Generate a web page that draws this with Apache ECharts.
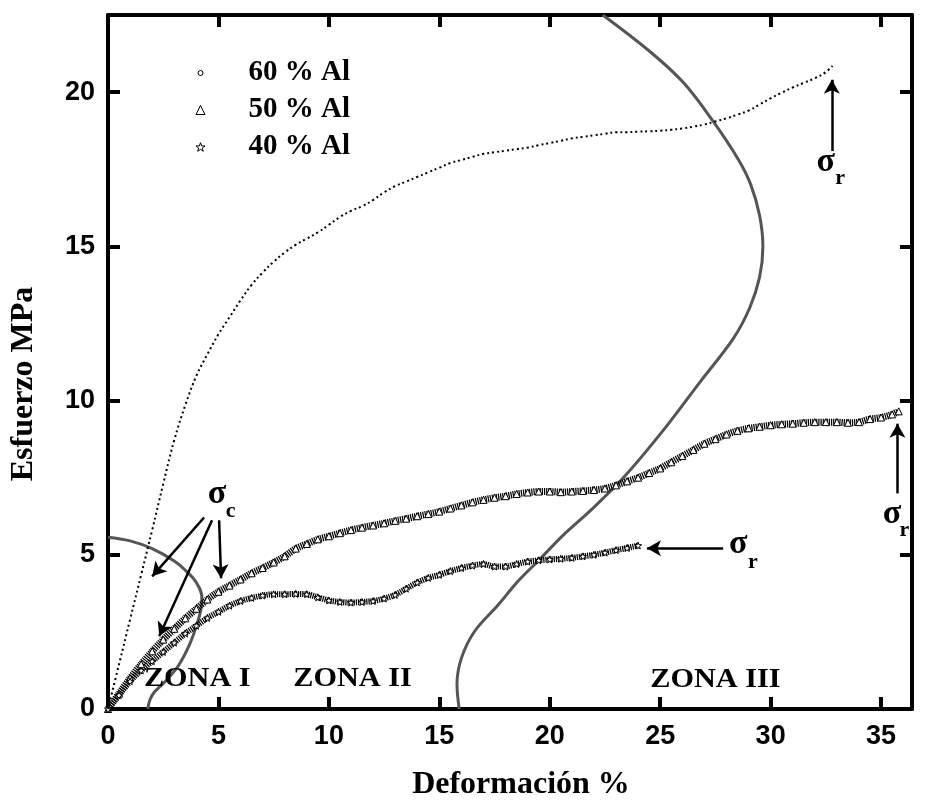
<!DOCTYPE html>
<html>
<head>
<meta charset="utf-8">
<script src="https://cdn.jsdelivr.net/npm/echarts@6/dist/echarts.min.js"></script>
<style>
html,body{margin:0;padding:0;background:#fff;}
#main{width:929px;height:806px;}
</style>
</head>
<body>
<div id="main"></div>
<script>
// ---------- data ----------
const strain60 = [0,0.5,1,1.5,2,2.5,3,3.5,4,4.5,5,5.5,6,6.5,7,7.5,8,8.5,9,9.5,10,10.5,11,11.5,12,12.5,13,13.5,14,14.5,15,15.5,16,16.5,17,17.5,18,18.5,19,19.5,20,20.5,21,21.5,22,22.5,23,23.5,24,24.5,25,25.5,26,26.5,27,27.5,28,28.5,29,29.5,30,30.5,31,31.5,32,32.5,32.8];
const stress60 = [0,1.45,2.9,4.35,5.8,7.3,8.72,9.85,10.8,11.5,12.15,12.7,13.25,13.75,14.15,14.5,14.8,15.05,15.25,15.45,15.7,15.95,16.15,16.3,16.5,16.75,16.95,17.1,17.25,17.4,17.55,17.7,17.8,17.9,18.0,18.05,18.1,18.15,18.2,18.28,18.35,18.42,18.5,18.55,18.6,18.65,18.7,18.7,18.72,18.73,18.75,18.78,18.82,18.88,18.95,19.05,19.15,19.27,19.4,19.6,19.8,19.98,20.15,20.3,20.45,20.65,20.85];

const strain50 = [0,0.5,1,1.5,2,2.5,3,3.5,4,4.5,5,5.5,6,6.5,7,7.5,8,8.5,9,9.5,10,10.5,11,11.5,12,12.5,13,13.5,14,14.5,15,15.5,16,16.5,17,17.5,18,18.5,19,19.5,20,20.5,21,21.5,22,22.5,23,23.5,24,24.5,25,25.5,26,26.5,27,27.5,28,28.5,29,29.5,30,30.5,31,31.5,32,32.5,33,33.5,34,34.5,35,35.5,35.8];
const stress50 = [0,0.5,1.0,1.45,1.87,2.25,2.6,2.94,3.25,3.55,3.8,4.0,4.2,4.4,4.57,4.75,4.95,5.2,5.35,5.5,5.6,5.7,5.8,5.88,5.95,6.02,6.1,6.17,6.25,6.32,6.4,6.5,6.6,6.7,6.78,6.85,6.9,6.97,7.02,7.05,7.05,7.03,7.05,7.07,7.1,7.15,7.25,7.38,7.5,7.65,7.8,8.0,8.2,8.4,8.6,8.75,8.9,9.02,9.1,9.15,9.2,9.23,9.25,9.28,9.3,9.3,9.3,9.28,9.3,9.4,9.45,9.55,9.65];

const strain40 = [0,0.5,1,1.5,2,2.5,3,3.5,4,4.5,5,5.5,6,6.5,7,7.5,8,8.5,9,9.5,10,10.5,11,11.5,12,12.5,13,13.5,14,14.5,15,15.5,16,16.5,17,17.5,18,18.5,19,19.5,20,20.5,21,21.5,22,22.5,23,23.5,24];
const stress40 = [0,0.45,0.9,1.25,1.55,1.85,2.15,2.45,2.7,2.95,3.15,3.35,3.5,3.6,3.68,3.72,3.72,3.73,3.72,3.62,3.52,3.47,3.45,3.47,3.5,3.58,3.7,3.9,4.1,4.25,4.35,4.47,4.57,4.65,4.7,4.62,4.62,4.7,4.78,4.82,4.85,4.87,4.9,4.95,5.0,5.07,5.15,5.22,5.3];

// zone boundary curves
const zone1X = [0,1,2,3,3.5,4.0,4.25,4.2,4.05,3.7,3.2,2.6,2.1,1.9,1.8];
const zone1Y = [5.57,5.45,5.2,4.8,4.5,4.1,3.6,3.2,2.8,2.1,1.42,0.9,0.55,0.3,0];
const zone2X = [15.9,15.8,16.0,16.6,17.66,18.56,19.46,20.6,21.85,23.3,25.1,26.8,28.3,29.05,29.5,29.65,29.5,29.1,28.55,27.4,26.06,24.56,22.4];
const zone2Y = [0,0.8,1.65,2.52,3.37,4.14,4.79,5.63,6.44,7.47,9.0,10.6,12.0,13.0,14.0,15.0,16.0,17.0,17.8,19.05,20.3,21.3,22.5];

const seriesNames = ['60 % Al','50 % Al','40 % Al'];
const xTicks = {min:0, max:36.4, interval:5};
const yTicks = {min:0, max:22.5, interval:5};

// ---------- helpers ----------
const pairs = (xs, ys) => xs.map((x,i)=>[x, ys[i]]);
const starPath = 'path://M0,-10L2.35,-3.24L9.51,-3.09L3.8,1.24L5.88,8.09L0,4L-5.88,8.09L-3.8,1.24L-9.51,-3.09L-2.35,-3.24Z';
const serif = '"Liberation Serif","Times New Roman",serif';
const sans = '"Liberation Sans",Arial,sans-serif';

const axisLineStyle = {show:true, onZero:false, lineStyle:{color:'#000', width:4}};
const tickStyle = {show:true, inside:true, length:12, lineStyle:{color:'#000', width:4}};
const labelStyle = {color:'#000', fontFamily:sans, fontWeight:'bold', fontSize:27, showMaxLabel:false};
const hollow = {color:'#fff', borderColor:'#000', borderWidth:1};
const legendText = pl => ({color:'#000', fontFamily:serif, fontWeight:'bold', fontSize:29, lineHeight:30, padding:[0,0,0,pl]});

const chart = echarts.init(document.getElementById('main'), null, {renderer:'canvas'});

const option = {
  animation:false,
  backgroundColor:'#fff',
  grid:{left:106, right:17, top:15, bottom:95, containLabel:false},
  legend:[
    {orient:'vertical', left:197.5, top:58, padding:0, itemWidth:5, itemHeight:5, selectedMode:false,
     textStyle:legendText(40.5), data:[{name:seriesNames[0], icon:'circle', itemStyle:hollow}]},
    {orient:'vertical', left:195.5, top:95, padding:0, itemWidth:9, itemHeight:9, selectedMode:false,
     textStyle:legendText(38.5), data:[{name:seriesNames[1], icon:'triangle', itemStyle:hollow}]},
    {orient:'vertical', left:195.5, top:132, padding:0, itemWidth:9, itemHeight:9, selectedMode:false,
     textStyle:legendText(38.5), data:[{name:seriesNames[2], icon:starPath, itemStyle:hollow}]}
  ],
  xAxis:[
    {type:'value', position:'bottom', min:xTicks.min, max:xTicks.max, interval:xTicks.interval,
     axisLine:axisLineStyle, axisTick:tickStyle, splitLine:{show:false},
     axisLabel:Object.assign({margin:14}, labelStyle),
     name:'Deformación %', nameLocation:'middle', nameGap:60,
     nameTextStyle:{color:'#000', fontFamily:serif, fontWeight:'bold', fontSize:32, padding:[0,0,0,22]}},
    {type:'value', position:'top', min:xTicks.min, max:xTicks.max, interval:xTicks.interval,
     axisLine:axisLineStyle, axisTick:tickStyle, splitLine:{show:false}, axisLabel:{show:false}}
  ],
  yAxis:[
    {type:'value', position:'left', min:yTicks.min, max:yTicks.max, interval:yTicks.interval,
     axisLine:axisLineStyle, axisTick:tickStyle, splitLine:{show:false},
     axisLabel:Object.assign({margin:13}, labelStyle),
     name:'Esfuerzo MPa', nameLocation:'middle', nameGap:68,
     nameTextStyle:{color:'#000', fontFamily:serif, fontWeight:'bold', fontSize:32, padding:[0,44,0,0]}},
    {type:'value', position:'right', min:yTicks.min, max:yTicks.max, interval:yTicks.interval,
     axisLine:axisLineStyle, axisTick:tickStyle, splitLine:{show:false}, axisLabel:{show:false}}
  ],
  series:[
    {name:'zona1', type:'line', data:pairs(zone1X, zone1Y), smooth:0.4, showSymbol:false, symbol:'none',
     lineStyle:{color:'#555', width:3}, z:1, silent:true},
    {name:'zona2', type:'line', data:pairs(zone2X, zone2Y), smooth:0.35, showSymbol:false, symbol:'none',
     lineStyle:{color:'#555', width:3}, z:1, silent:true},
    {name:seriesNames[0], type:'line', data:pairs(strain60, stress60), smooth:0.4, showSymbol:false, symbol:'circle',
     lineStyle:{color:'#000', width:2, type:[2,3]}, itemStyle:hollow, z:3,
     markLine:{silent:true, symbol:['none','arrow'], symbolSize:[12,14], label:{show:false},
       lineStyle:{color:'#000', width:2.5, type:'solid'},
       data:[
         [{coord:[4.35,6.21]},{coord:[2.0,4.3]}],
         [{coord:[4.71,6.12]},{coord:[2.32,2.36]}],
         [{coord:[5.03,6.12]},{coord:[5.12,4.24]}],
         [{coord:[32.77,18.09]},{coord:[32.77,20.4]}],
         [{coord:[35.74,6.99]},{coord:[35.74,9.25]}],
         [{coord:[27.85,5.21]},{coord:[24.4,5.21]}]
       ]}},
    {name:seriesNames[1], type:'line', data:pairs(strain50, stress50), smooth:0.3,
     showSymbol:true, showAllSymbol:true, symbol:'triangle', symbolSize:7, itemStyle:hollow,
     lineStyle:{color:'#000', width:7, type:[1.2,0.9]}, z:2},
    {name:seriesNames[2], type:'line', data:pairs(strain40, stress40), smooth:0.3,
     showSymbol:true, showAllSymbol:true, symbol:starPath, symbolSize:7, itemStyle:hollow,
     lineStyle:{color:'#000', width:6, type:[1.2,0.9]}, z:2}
  ]
};
chart.setOption(option);

// text annotations placed in data coordinates
const toPx = (x,y) => chart.convertToPixel({xAxisIndex:0, yAxisIndex:0}, [x,y]);
const annText = (x, y, text, size, dy, sx) => {
  const p = toPx(x,y);
  return {type:'text', z:50, x:p[0], y:p[1] + (dy||0), scaleX:sx||1,
    style:{text:text, x:0, y:0, align:'center', verticalAlign:'middle',
    fill:'#000', font:'bold ' + size + 'px ' + serif}};
};
const graphics = [
  annText(4.04, 0.97, 'ZONA I', 27, 0, 1.12),
  annText(11.07, 0.97, 'ZONA II', 27, 0, 1.12),
  annText(27.5, 0.93, 'ZONA III', 27, 0, 1.12),
  annText(4.94, 6.83, 'σ', 34, -4),
  annText(5.55, 6.3, 'c', 22, -3),
  annText(32.5, 17.6, 'σ', 34, -4),
  annText(33.15, 17.12, 'r', 22, -3),
  annText(35.5, 6.18, 'σ', 34, -4),
  annText(36.05, 5.70, 'r', 22, -3),
  annText(28.53, 5.21, 'σ', 34, -4),
  annText(29.2, 4.66, 'r', 22, -3)
];
chart.setOption({graphic:graphics});
</script>
</body>
</html>
